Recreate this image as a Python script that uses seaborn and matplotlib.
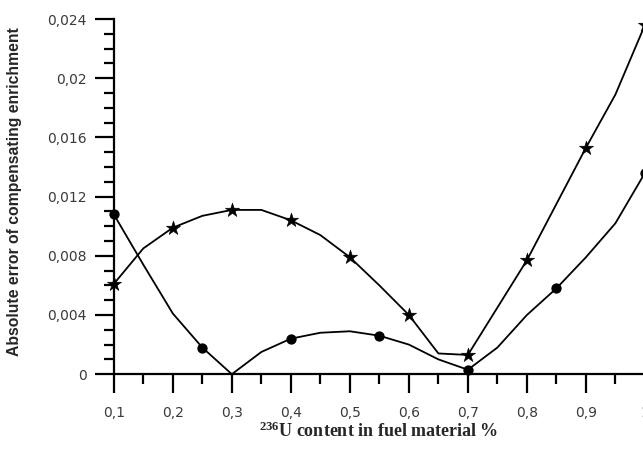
import matplotlib
matplotlib.use("Agg")
import matplotlib.pyplot as plt
from matplotlib.ticker import MultipleLocator, FuncFormatter
import seaborn as sns

# ---- data ----
x_line = [0.10, 0.15, 0.20, 0.25, 0.30, 0.35, 0.40, 0.45, 0.50, 0.55,
          0.60, 0.65, 0.70, 0.75, 0.80, 0.85, 0.90, 0.95, 1.00]
circle_line = [0.0108, 0.0074, 0.0041, 0.0018, 0.0000, 0.0015, 0.0024, 0.0028,
               0.0029, 0.0026, 0.0020, 0.0010, 0.0003, 0.0018, 0.0040, 0.0058,
               0.0079, 0.0102, 0.0136]
star_line = [0.0061, 0.0085, 0.0099, 0.0107, 0.0111, 0.0111, 0.0104, 0.0094,
             0.0079, 0.0060, 0.0040, 0.0014, 0.0013, 0.0045, 0.0077, 0.0115,
             0.0153, 0.0189, 0.0236]
circle_x = [0.10, 0.25, 0.40, 0.55, 0.70, 0.85, 1.00]
circle_y = [0.0108, 0.0018, 0.0024, 0.0026, 0.0003, 0.0058, 0.0136]
star_x = [0.1, 0.2, 0.3, 0.4, 0.5, 0.6, 0.7, 0.8, 0.9, 1.0]
star_y = [0.0061, 0.0099, 0.0111, 0.0104, 0.0079, 0.0040, 0.0013, 0.0077,
          0.0153, 0.0236]

x_label = r"$\mathbf{^{236}}$U content in fuel material %"
y_label = "Absolute error of compensating enrichment"

sns.set_style("ticks")
plt.rcParams['font.family'] = ['DejaVu Sans']
plt.rcParams['mathtext.fontset'] = 'custom'
plt.rcParams['mathtext.bf'] = 'Liberation Serif:bold'
plt.rcParams['mathtext.rm'] = 'Liberation Serif'

fig = plt.figure(figsize=(6.43, 4.53), dpi=100)
ax = fig.add_axes([0.177, 0.174, 0.826, 0.784])

sns.lineplot(x=x_line, y=circle_line, color='black', linewidth=1.3, sort=False,
             ax=ax, clip_on=False)
sns.lineplot(x=x_line, y=star_line, color='black', linewidth=1.3, sort=False,
             ax=ax, clip_on=False)
sns.scatterplot(x=circle_x, y=circle_y, marker='o', s=55, color='black',
                edgecolor='black', linewidth=0, ax=ax, clip_on=False, zorder=5)
sns.scatterplot(x=star_x, y=star_y, marker='*', s=115, color='black',
                edgecolor='black', linewidth=0.4, ax=ax, clip_on=False, zorder=5)

ax.set_xlim(0.1, 1.0)
ax.set_ylim(0, 0.024)

ax.xaxis.set_major_locator(MultipleLocator(0.1))
ax.xaxis.set_minor_locator(MultipleLocator(0.05))
ax.yaxis.set_major_locator(MultipleLocator(0.004))
ax.yaxis.set_minor_locator(MultipleLocator(0.001))

def fmt(v, pos):
    s = f"{round(v, 4):g}"
    return s.replace('.', ',')

ax.xaxis.set_major_formatter(FuncFormatter(fmt))
ax.yaxis.set_major_formatter(FuncFormatter(fmt))

for s in ['top', 'right']:
    ax.spines[s].set_visible(False)
for s in ['left', 'bottom']:
    ax.spines[s].set_linewidth(1.6)
    ax.spines[s].set_color('black')

ax.tick_params(axis='both', which='major', length=13.5, width=1.6,
               color='black', labelsize=10, labelcolor='#3a3a3a', direction='out')
ax.tick_params(axis='both', which='minor', length=7, width=1.6,
               color='black', direction='out')
ax.tick_params(axis='x', which='major', pad=9.5)
ax.tick_params(axis='y', which='major', pad=6)

ax.set_xlabel(x_label, fontfamily='Liberation Serif', fontweight='bold',
              fontsize=13, va='center')
ax.xaxis.set_label_coords(0.499, -0.160)
ax.set_ylabel(y_label, fontfamily='Liberation Sans', fontweight='bold',
              fontsize=11.3, va='center', ha='center', rotation_mode='default')
ax.yaxis.set_label_coords(-0.187, 0.515)

fig.savefig("out.png", dpi=100)
